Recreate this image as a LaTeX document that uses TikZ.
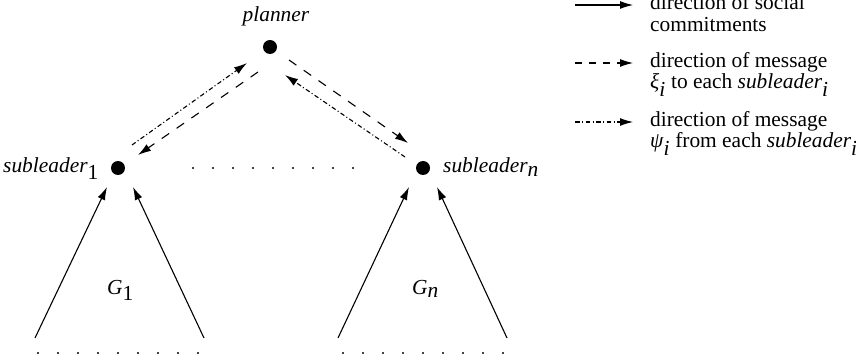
\documentclass[tikz,border=0pt]{standalone}
\usepackage{fontspec}
\setmainfont{Liberation Serif}
\usetikzlibrary{arrows.meta}
\begin{document}
\begin{tikzpicture}[x=1pt,y=-1pt,
  every node/.style={font=\fontsize{21.4}{21}\selectfont, inner sep=0pt},
  dotnode/.style={circle, fill=black, inner sep=0pt, minimum size=14pt},
  arr/.style={line width=1.1pt, -{Latex[length=13pt,width=8pt]}},
  dsh/.style={arr, dash pattern=on 9pt off 9pt},
  dshdot/.style={arr, dash pattern=on 4.5pt off 2.5pt on 1pt off 2.5pt},
  smalldot/.style={circle, fill=black, inner sep=0pt, minimum size=2.2pt}]
\useasboundingbox (0,0) rectangle (856,355);
% main nodes
\node[dotnode] (P) at (270,47) {};
\node[dotnode] (S1) at (118,168) {};
\node[dotnode] (Sn) at (423,168) {};
\node[anchor=base] (Plab) at (276,22) {\textit{planner}};
\node[anchor=base east] (S1lab) at (99,173) {$\textit{subleader}_{\textrm{1}}$};
\node[anchor=base west] (Snlab) at (443,173) {$\textit{subleader}_{\textit{n}}$};
\node[anchor=base west] (G1) at (107,294) {$\textit{G}_{\textrm{1}}$};
\node[anchor=base west] (Gn) at (412,294) {$\textit{G}_{\textit{n}}$};
% upper arrows
\coordinate (u1s) at (132,145); \coordinate (u1e) at (247,63);
\coordinate (u2s) at (258,72);  \coordinate (u2e) at (138,155);
\coordinate (u3s) at (289,60);  \coordinate (u3e) at (408,143);
\coordinate (u4s) at (405,157); \coordinate (u4e) at (285,75);
\draw[dshdot] (u1s) -- (u1e);
\draw[dsh] (u2s) -- (u2e);
\draw[dsh] (u3s) -- (u3e);
\draw[dshdot] (u4s) -- (u4e);
% lower arrows
\coordinate (a1) at (35,338); \coordinate (b1) at (204,338);
\coordinate (a2) at (338,338); \coordinate (b2) at (507,338);
\coordinate (t1) at (107,187); \coordinate (t2) at (133,187);
\coordinate (t3) at (409,187); \coordinate (t4) at (437,187);
\draw[arr] (a1) -- (t1);
\draw[arr] (b1) -- (t2);
\draw[arr] (a2) -- (t3);
\draw[arr] (b2) -- (t4);
% dotted rows
\foreach \i in {0,...,8} {
  \node[smalldot] (m\i) at (193+20*\i,168) {};
  \node[smalldot] (bl\i) at (38+20*\i,353) {};
  \node[smalldot] (br\i) at (343+20*\i,353) {};
}
% legend
\coordinate (L1s) at (575,5);   \coordinate (L1e) at (633,5);
\coordinate (L2s) at (575,63);  \coordinate (L2e) at (633,63);
\coordinate (L3s) at (575,122); \coordinate (L3e) at (633,122);
\draw[arr] (L1s) -- (L1e);
\draw[dsh, dash pattern=on 7pt off 7pt] (L2s) -- (L2e);
\draw[dshdot] (L3s) -- (L3e);
\node[anchor=base west] (t1a) at (650,10) {direction of social};
\node[anchor=base west] (t1b) at (650,32) {commitments};
\node[anchor=base west] (t2a) at (650,68) {direction of message};
\node[anchor=base west] (t2b) at (650,89) {$\textit{ξ}_{\textit{i}}$ to each $\textit{subleader}_{\textit{i}}$};
\node[anchor=base west] (t3a) at (650,127) {direction of message};
\node[anchor=base west] (t3b) at (650,148) {$\textit{ψ}_{\textit{i}}$ from each $\textit{subleader}_{\textit{i}}$};
\end{tikzpicture}
\end{document}
